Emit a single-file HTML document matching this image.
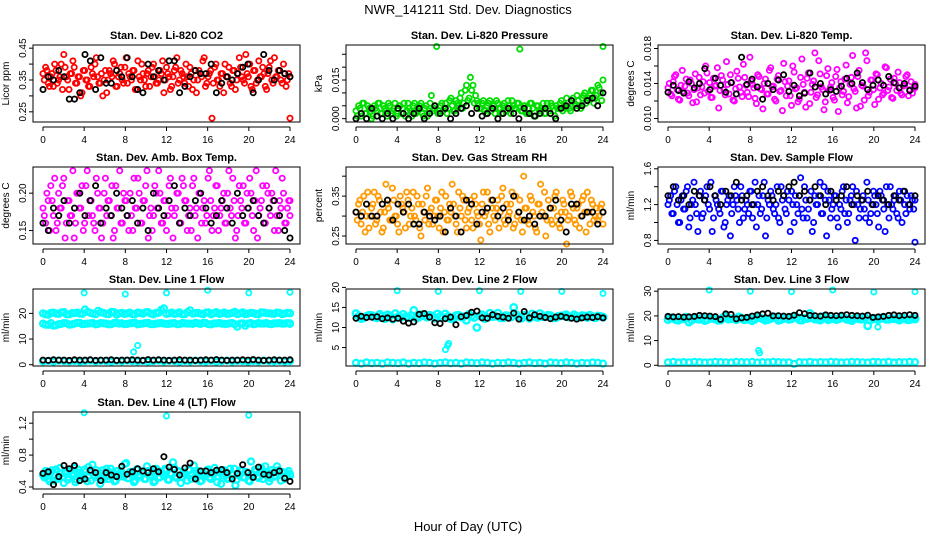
<!DOCTYPE html>
<html><head><meta charset="utf-8">
<style>
html,body{margin:0;padding:0;background:#fff;}
svg{display:block;font-family:"Liberation Sans",sans-serif;}
</style></head>
<body>
<svg id="chart" width="936" height="540" viewBox="0 0 936 540">
<rect width="936" height="540" fill="#fff"/>
<text x="468" y="14" text-anchor="middle" font-size="13">NWR_141211  Std. Dev. Diagnostics</text>
<text x="468" y="531" text-anchor="middle" font-size="13">Hour of Day (UTC)</text>
<g id="panels"></g>
</svg>
<script>
// ---- data ----
const xTicks = [0,4,8,12,16,20,24];
const co2Red = [.37,.39,.34,.36,.33,.38,.35,.40,.43,.36,.32,.37,.39,.34,.36,.31,.38,.35,.33,.37,.40,.36,.34,.30,.38,.35,.37,.41,.33,.36,.39,.34,.42,.37,.35,.38,.32,.36,.40,.35,.37,.33,.39,.36,.34,.38,.41,.35,.37,.32,.36,.39,.34,.38,.36,.40,.33,.37,.35,.31,.38,.36,.42,.34,.37,.23,.39,.35,.33,.37,.40,.36,.34,.38,.32,.37,.39,.35,.43,.36,.33,.38,.34,.41,.36,.37,.32,.39,.35,.42,.36,.38,.34,.37,.35,.23];
const co2Red2 = [.35,.38,.33,.37,.40,.34,.36,.32,.39,.35,.37,.41,.34,.36,.30,.38,.35,.33,.39,.36,.42,.34,.37,.35,.31,.38,.36,.40,.33,.37,.35,.39,.34,.36,.38,.32,.41,.35,.37,.33,.38,.36,.40,.34,.35,.37,.31,.39,.36,.33,.38,.42,.35,.37,.34,.36,.39,.32,.38,.35,.37,.41,.33,.36,.38,.34,.40,.35,.37,.31,.36,.39,.33,.38,.35,.42,.36,.34,.37,.40,.32,.38,.35,.36,.39,.33,.37,.41,.34,.36,.38,.35,.40,.33,.37,.36];
const co2Black = [.32,.36,.35,.38,.36,.29,.29,.31,.43,.41,.32,.42,.34,.34,.38,.36,.42,.36,.32,.31,.40,.36,.38,.35,.41,.41,.31,.33,.36,.38,.37,.37,.40,.31,.34,.36,.35,.37,.39,.40,.31,.35,.43,.38,.35,.38,.37,.36];
const presGreen = [.003,.005,.001,.006,.002,.004,.000,.005,.003,.006,.002,.004,.001,.005,.003,.006,.002,.005,.004,.001,.006,.003,.005,.002,.004,.006,.001,.005,.003,.009,.004,.028,.003,.006,.004,.002,.007,.005,.003,.006,.008,.004,.011,.007,.016,.013,.009,.006,.004,.007,.002,.006,.003,.005,.007,.004,.002,.006,.003,.005,.007,.004,.006,.027,.003,.005,.002,.006,.004,.001,.005,.003,.006,.002,.004,.006,.003,.005,.004,.007,.005,.008,.004,.007,.006,.009,.005,.008,.010,.007,.009,.011,.008,.013,.010,.028];
const presGreen2 = [.001,.004,.006,.002,.005,.003,.001,.004,.006,.002,.005,.003,.006,.002,.004,.001,.005,.002,.006,.003,.004,.001,.006,.003,.005,.002,.004,.001,.006,.003,.005,.002,.005,.003,.006,.004,.008,.003,.007,.005,.010,.006,.013,.008,.011,.006,.007,.004,.006,.003,.005,.007,.004,.002,.006,.004,.005,.003,.007,.002,.005,.004,.006,.003,.005,.002,.004,.006,.001,.005,.003,.004,.002,.006,.003,.005,.001,.004,.006,.003,.004,.006,.003,.008,.005,.007,.004,.009,.006,.008,.011,.006,.009,.012,.007,.015];
const presBlack = [.000,.002,.000,.004,.001,.000,.002,.000,.004,.002,.000,.002,.004,.000,.002,.005,.002,.004,.000,.002,.004,.005,.002,.004,.001,.002,.004,.000,.002,.004,.002,.000,.004,.002,.001,.002,.004,.002,.000,.004,.005,.007,.004,.005,.007,.008,.005,.010];
const tempMag = [.0135,.0128,.0142,.0150,.0122,.0138,.0131,.0145,.0126,.0140,.0133,.0119,.0147,.0136,.0129,.0152,.0141,.0124,.0137,.0158,.0132,.0144,.0127,.0139,.0150,.0121,.0134,.0146,.0130,.0162,.0138,.0125,.0143,.0135,.0117,.0148,.0133,.0140,.0128,.0155,.0136,.0122,.0145,.0131,.0109,.0142,.0137,.0126,.0160,.0134,.0119,.0147,.0139,.0113,.0152,.0130,.0143,.0124,.0166,.0136,.0110,.0149,.0132,.0141,.0121,.0156,.0135,.0127,.0145,.0118,.0139,.0172,.0131,.0148,.0114,.0137,.0175,.0126,.0144,.0133,.0151,.0122,.0140,.0129,.0158,.0136,.0124,.0146,.0132,.0141,.0127,.0138,.0150,.0133,.0129,.0135];
const tempMag2 = [.0140,.0126,.0148,.0133,.0121,.0155,.0137,.0129,.0144,.0118,.0151,.0135,.0127,.0142,.0160,.0131,.0124,.0146,.0138,.0112,.0149,.0133,.0165,.0128,.0141,.0120,.0154,.0136,.0125,.0147,.0130,.0170,.0139,.0123,.0150,.0134,.0111,.0145,.0128,.0158,.0137,.0120,.0149,.0132,.0163,.0126,.0143,.0115,.0153,.0135,.0122,.0168,.0130,.0146,.0117,.0139,.0175,.0127,.0151,.0133,.0119,.0157,.0136,.0124,.0148,.0108,.0142,.0131,.0161,.0125,.0147,.0134,.0112,.0155,.0138,.0121,.0166,.0130,.0144,.0116,.0150,.0135,.0127,.0159,.0132,.0145,.0123,.0140,.0153,.0129,.0137,.0148,.0126,.0142,.0134,.0139];
const tempBlack = [.0130,.0138,.0132,.0129,.0142,.0135,.0140,.0157,.0133,.0146,.0138,.0130,.0141,.0128,.0170,.0139,.0145,.0136,.0122,.0140,.0133,.0144,.0150,.0131,.0138,.0126,.0129,.0152,.0136,.0140,.0128,.0133,.0131,.0137,.0146,.0140,.0152,.0141,.0133,.0138,.0144,.0138,.0148,.0141,.0135,.0140,.0132,.0137];
const boxMag = [.18,.16,.19,.21,.17,.15,.20,.18,.22,.16,.19,.17,.14,.20,.18,.21,.16,.23,.19,.17,.15,.20,.18,.16,.22,.19,.17,.14,.21,.18,.16,.20,.19,.15,.17,.22,.18,.20,.16,.19,.23,.17,.15,.21,.18,.20,.16,.19,.17,.22,.14,.18,.20,.16,.21,.19,.17,.15,.22,.18,.20,.16,.19,.17,.23,.15,.18,.21,.17,.19,.16,.20,.18,.22,.14,.17,.19,.21,.16,.18,.20,.15,.23,.17,.19,.16,.21,.18,.20,.15,.17,.19,.22,.16,.18,.19];
const boxMag2 = [.17,.20,.15,.19,.22,.16,.18,.21,.14,.19,.17,.23,.16,.20,.18,.15,.21,.17,.19,.16,.22,.18,.14,.20,.17,.19,.21,.15,.18,.23,.16,.19,.17,.20,.15,.18,.22,.16,.19,.21,.14,.18,.17,.20,.23,.16,.19,.15,.21,.18,.17,.20,.16,.22,.19,.15,.18,.21,.17,.14,.20,.18,.16,.22,.19,.17,.21,.15,.18,.20,.16,.23,.17,.19,.15,.21,.18,.16,.20,.22,.17,.19,.14,.18,.21,.16,.20,.17,.19,.23,.15,.18,.20,.16,.19,.17];
const boxBlack = [.16,.15,.18,.17,.19,.16,.18,.20,.17,.19,.21,.16,.18,.17,.20,.18,.17,.19,.16,.18,.15,.20,.18,.17,.19,.21,.16,.18,.17,.19,.20,.18,.16,.17,.19,.18,.16,.20,.17,.18,.19,.17,.16,.18,.19,.17,.15,.14];
const rhOrange = [.31,.33,.28,.35,.30,.27,.32,.36,.29,.34,.26,.31,.33,.29,.37,.30,.28,.35,.32,.27,.34,.30,.36,.29,.33,.25,.31,.35,.28,.32,.30,.34,.27,.36,.31,.29,.33,.38,.30,.26,.32,.35,.29,.31,.34,.27,.33,.30,.24,.36,.31,.28,.34,.30,.32,.27,.35,.29,.33,.31,.36,.28,.30,.34,.26,.32,.29,.35,.31,.27,.33,.38,.30,.25,.34,.29,.32,.36,.28,.31,.33,.23,.30,.35,.29,.32,.27,.34,.31,.36,.28,.33,.30,.29,.32,.31];
const rhOrange2 = [.29,.34,.31,.26,.36,.30,.33,.28,.35,.31,.27,.38,.32,.29,.34,.30,.26,.33,.31,.36,.28,.32,.30,.35,.27,.33,.29,.37,.31,.28,.34,.30,.32,.26,.35,.29,.31,.33,.28,.36,.30,.34,.27,.32,.29,.35,.31,.28,.33,.30,.36,.26,.32,.29,.34,.31,.37,.28,.30,.33,.27,.35,.31,.29,.40,.32,.28,.34,.30,.26,.33,.31,.36,.29,.32,.28,.35,.30,.27,.34,.31,.29,.36,.32,.28,.33,.30,.35,.26,.31,.34,.29,.32,.30,.33,.28];
const rhBlack = [.31,.30,.33,.30,.30,.33,.34,.29,.33,.31,.33,.28,.28,.31,.30,.29,.30,.26,.32,.30,.26,.34,.33,.28,.31,.32,.34,.30,.32,.29,.35,.31,.29,.30,.28,.30,.30,.32,.34,.29,.26,.33,.33,.30,.31,.31,.28,.31];
const flowBlue = [1.2,1.3,1.1,1.4,1.0,1.25,1.15,1.35,0.95,1.2,1.45,1.1,1.3,1.05,1.25,1.4,1.15,0.9,1.3,1.2,1.1,1.35,1.0,1.25,0.85,1.2,1.3,1.15,1.4,1.05,1.25,1.1,1.35,1.2,0.95,1.3,1.15,1.45,1.05,1.2,1.3,1.1,1.4,1.0,1.25,1.15,1.35,0.9,1.2,1.3,1.1,1.5,1.05,1.25,1.15,1.35,1.0,1.2,1.3,1.1,1.4,0.85,1.25,1.15,1.3,1.05,1.2,1.35,1.1,1.0,1.25,1.4,0.8,1.2,1.15,1.3,1.05,1.25,1.1,1.35,1.2,0.95,1.3,1.15,1.4,1.05,1.2,1.25,1.1,1.35,1.0,1.2,1.3,1.15,1.25,0.78];
const flowBlue2 = [1.25,1.1,1.35,1.2,1.0,1.3,1.15,1.4,1.05,1.25,1.2,0.9,1.35,1.1,1.3,1.2,1.45,1.05,1.25,1.15,1.35,0.95,1.2,1.3,1.1,1.4,1.25,1.0,1.3,1.15,1.2,1.35,1.05,1.45,1.2,1.1,1.3,0.85,1.25,1.35,1.15,1.2,1.05,1.4,1.3,1.1,1.25,1.35,1.0,1.2,1.3,1.15,1.4,1.05,1.25,0.9,1.3,1.2,1.45,1.1,1.25,1.35,1.05,1.2,1.3,0.95,1.15,1.4,1.25,1.1,1.3,1.2,1.35,1.05,1.25,1.15,1.45,1.0,1.2,1.3,1.1,1.35,1.25,0.9,1.2,1.4,1.15,1.3,1.05,1.25,1.35,1.1,1.2,1.3,1.15,1.25];
const flowBlack = [1.3,1.4,1.25,1.3,1.2,1.35,1.3,1.25,1.4,1.3,1.2,1.35,1.3,1.45,1.25,1.3,1.2,1.35,1.4,1.3,1.25,1.35,1.3,1.4,1.45,1.3,1.35,1.25,1.4,1.3,1.2,1.35,1.25,1.3,1.4,1.2,1.3,1.25,1.35,1.2,1.3,1.25,1.2,1.3,1.25,1.35,1.2,1.3];
const line1Upper = [20,19.5,20.3,19.8,20.5,19.6,20.1,19.9,21.5,20.2,19.7,20.4,19.8,20.6,19.5,20.2,20,19.7,20.3,19.9,20.5,19.6,20.2,22,20,19.8,20.4,19.7,21.2,20.1,19.9,20.3,19.6,20.5,20,19.8,20.2,19.7,20.4,19.9,20.1,19.6,20.3,20,19.8,20.2,19.9,20.1];
const line1Upper2 = [19.7,20.2,19.9,20.4,19.6,20.1,20.3,19.8,20.6,19.9,21,20.2,19.7,20.5,20,19.8,20.3,19.6,20.1,20.4,19.9,20.2,21.4,19.8,20.3,20,19.6,20.5,19.9,20.2,19.7,20.4,20.1,19.8,20.3,19.9,20.6,20,19.7,20.2,19.8,20.4,20.1,19.9,20.3,19.7,20.2,20];
const line1Mid = [16,15.5,15.2,15.8,16.2,15.6,16,16.3,15.9,16.1,15.7,16.2,16,15.8,16.3,16.1,15.9,16.2,15.7,16,16.3,15.8,16.1,16,15.9,16.2,15.8,16.1,16,16.3,15.9,16.2,15.7,16.1,16,15.9,16.2,14.8,16.1,16,15.8,16.2,16,15.9,16.1,16.2,16,16.1];
const line1Mid2 = [15.6,16.2,15.4,15.9,16.1,15.7,16.3,15.8,16,16.2,15.9,16.1,15.7,16.2,16,15.8,16.1,16.3,15.9,16.2,15.8,16,16.2,15.9,16.1,15.8,16.2,16,15.9,16.1,16.3,15.8,16,16.2,15.9,16.1,15.8,16,15.2,16.2,15.9,16,16.2,15.8,16.1,16,16.2,15.9];
const line1Low = [1.3,1.5,1.2,1.6,1.4,1.3,1.5,1.2,1.4,1.6,1.3,1.5,1.4,1.2,1.5,1.3,1.6,1.4,1.3,1.5,1.2,1.4,1.6,1.3,1.5,1.4,1.2,1.5,1.3,1.6,1.4,1.3,1.5,1.2,1.4,1.6,1.3,1.5,1.4,1.2,1.5,1.3,1.6,1.4,1.3,1.5,1.2,1.4];
const line1Black = [1.8,1.7,1.9,1.8,1.8,1.7,1.9,1.8,1.8,1.9,1.7,1.8,1.8,1.9,1.7,1.8,1.8,1.9,1.8,1.7,2.0,1.8,1.9,1.8,1.7,1.8,1.9,1.8,1.8,1.7,1.8,1.9,1.8,2.0,1.8,1.7,1.8,1.8,1.9,1.8,2.0,1.8,1.7,1.8,1.9,1.8,1.8,1.9];
const line1OutHours = [4,8,12,16,20,24,8.8,9.2];
const line1OutVals = [28,27.5,28,29,28,28.2,5,7.5];
const line2Band = [13.5,12.2,12.8,13,12.4,12.9,13.2,12.1,12.7,13.3,12.5,14.3,12.6,12.9,13.1,12.3,12.8,13.4,12.2,13,12.6,11.8,12.9,10,13.2,12.5,12.7,13.6,12.4,12.9,15,12.6,13.1,12.3,12.8,13.5,12.7,13,12.4,12.9,13.2,12.6,12.8,13,12.5,12.7,12.9,12.6];
const line2Band2 = [12.8,12.4,13.1,12.6,13.3,12.2,12.9,13.5,12.5,12.7,13,12.3,13.2,12.6,12.9,13.4,12.4,12.8,12.1,13.1,12.7,13.3,12.5,12.9,12.2,13.6,12.8,12.4,13,12.6,13.2,12.3,12.9,13.4,12.5,12.7,13.1,12.4,12.8,13,12.6,13.2,12.5,12.9,13.1,12.4,12.8,12.6];
const line2Low = [1.2,1.0,1.3,1.1,1.2,1.0,1.3,1.2,1.1,1.3,1.0,1.2,1.1,1.3,1.2,1.0,1.2,1.3,1.1,1.2,1.0,1.3,1.2,1.1,1.3,1.2,1.0,1.2,1.1,1.3,1.2,1.0,1.2,1.3,1.1,1.2,1.0,1.3,1.2,1.1,1.3,1.2,1.0,1.2,1.1,1.3,1.2,1.0];
const line2Black = [12.3,12.8,12.5,12.6,12.7,12.2,12.4,12.1,12.3,11.6,11.1,11.4,13.3,13.5,12.6,11.2,11,12.2,12.6,10.7,12.7,13,13.8,14.1,12.4,12.3,13.2,12.8,12.6,12.3,13.6,12.1,14,12.4,13.2,12.8,12.5,12.2,12.6,12.8,12.5,12.3,12.1,12.4,12.6,12.5,12.7,12.4];
const line2OutHours = [4,8,12,16,20,24,8.7,8.9,9.0];
const line2OutVals = [19.2,19,19.2,19,19,18.5,4.5,5.5,6];
const line3Band = [18.5,19,18.2,18.8,17.5,19.2,18.6,18.1,19.4,18.7,18.3,19.8,18.9,18.4,19.1,18.6,18,19.3,18.8,18.5,19.5,18.2,18.9,18.6,19.9,18.4,19,21,18.7,18.3,19.2,18.8,18.5,19.4,18.6,18.1,19,18.7,16,18.9,18.4,19.1,18.6,18.8,18.3,19,18.5,18.7];
const line3Band2 = [19.2,18.4,18.9,19.5,18.3,18.8,19.3,18.5,19,18.2,19.4,18.7,18.9,19.6,18.4,19.1,18.6,19.3,18.2,18.9,19.5,18.5,19.1,18.8,19.4,18.3,18.9,19.2,18.6,19.7,18.4,19,18.8,19.3,18.5,19.1,18.7,19.4,18.3,18.9,19.2,18.6,19,18.8,19.3,18.5,19.1,18.9];
const line3Low = [1.2,1.4,1.1,1.3,1.2,1.4,1.3,1.1,1.2,1.4,1.3,1.2,1.1,1.4,1.3,1.2,1.4,1.1,1.3,1.2,1.4,1.3,1.1,1.2,0.6,1.3,1.2,1.4,1.1,1.3,1.2,1.4,1.3,1.1,1.2,1.4,1.3,1.2,1.1,1.4,1.3,1.2,1.4,1.1,1.3,1.2,1.4,1.3];
const line3Black = [19.8,19.6,19.7,19.5,19.6,19.8,20.2,20.1,19.9,19.7,18.6,20.8,20.6,18.8,19.2,19.4,19.9,20.4,20.8,21.1,20,20.1,19.9,19.8,20.3,21.3,20.9,20.2,20.1,19.9,20.4,20.2,20.1,20.3,20.5,20.2,20.1,19.9,20.3,19.4,19.6,19.8,20.2,20.4,20.1,20.3,20.5,20.2];
const line3OutHours = [4,8,12,16,20,24,8.8,8.9,20.4];
const line3OutVals = [30.5,30,29.8,30.5,29.7,29.8,6,5,15.5];
const line4Cyan = [.55,.60,.50,.58,.48,.62,.53,.57,.45,.60,.52,.56,.64,.49,.58,.54,.62,.47,.59,.68,.52,.57,.44,.61,.55,.50,.63,.58,.48,.56,.60,.53,.70,.51,.57,.46,.62,.55,.59,.50,.66,.54,.58,.47,.61,.52,.56,.63,.49,.57,.71,.53,.60,.45,.58,.55,.62,.50,.67,.54,.59,.48,.56,.61,.52,.57,.64,.46,.58,.54,.60,.50,.63,.55,.42,.57,.61,.52,.59,.48,.72,.55,.60,.51,.64,.56,.58,.47,.61,.53,.66,.55,.59,.50,.57,.54];
const line4Cyan2 = [.52,.58,.47,.61,.55,.50,.64,.53,.57,.49,.60,.54,.46,.62,.56,.51,.59,.65,.48,.55,.61,.52,.57,.50,.63,.54,.58,.47,.60,.53,.56,.69,.51,.59,.55,.48,.62,.53,.57,.50,.60,.55,.46,.63,.52,.58,.54,.61,.49,.56,.64,.51,.59,.53,.57,.48,.61,.55,.52,.60,.47,.58,.54,.62,.50,.56,.59,.53,.44,.61,.55,.51,.57,.63,.49,.54,.60,.52,.58,.47,.56,.62,.53,.59,.50,.66,.55,.51,.58,.54,.61,.48,.57,.53,.60,.56];
const line4Black = [.57,.59,.43,.53,.67,.63,.67,.48,.50,.61,.58,.48,.58,.55,.53,.66,.56,.59,.63,.60,.58,.63,.59,.78,.65,.62,.55,.64,.70,.50,.60,.60,.58,.61,.62,.58,.50,.57,.68,.58,.52,.65,.56,.55,.58,.60,.51,.47];
const line4OutHours = [4,12,20];
const line4OutVals = [1.33,1.29,1.30];

// ---- layout ----
const colLeft = [33,346,658], rowTop = [45,167,289,412], PW = 267, PH = 77;
const NS = 'http://www.w3.org/2000/svg';
const root = document.getElementById('panels');
function mk(tag, attrs, parent){ const e=document.createElementNS(NS,tag); for(const k in attrs) e.setAttribute(k,attrs[k]); (parent||root).appendChild(e); return e; }

function evenHours(n, shift){ const st = 24/(n-1); return Array.from({length:n},(_,i)=>Math.min(24, i*st + (shift||0)*st)); }

function panel(cfg){
  const L = colLeft[cfg.col], T = rowTop[cfg.row];
  const g = mk('g',{});
  
  
  const xs = h => L + 10 + h*(PW-20)/24;
  const ys = v => T + PH - (v - cfg.ylim[0])/(cfg.ylim[1]-cfg.ylim[0])*PH;
  const t = mk('text',{x:L+PW/2,y:T-6,'text-anchor':'middle','font-size':'11','font-weight':'bold'},g);
  t.textContent = cfg.title;
  
  
  const yl = mk('text',{x:0,y:0,'text-anchor':'middle','font-size':'10',transform:`translate(${L-24},${T+PH/2}) rotate(-90)`},g);
  yl.textContent = cfg.ylab;
  
  
  cfg.series.forEach(s=>{
    const hrs = s.hours || evenHours(s.vals.length, s.shift);
    s.vals.forEach((v,i)=>{
      const c = mk('circle',{cx:xs(hrs[i]).toFixed(1),cy:ys(v).toFixed(1),r:s.r||2.6,fill:'none',stroke:s.color,'stroke-width':s.sw||1.8},g);
      
      
    });
  });
  const f = mk('rect',{x:L,y:T,width:PW,height:PH,fill:'none',stroke:'#000','stroke-width':1},g);
  
  
  const ay = T+PH+5;
  mk('line',{x1:xs(0),x2:xs(24),y1:ay,y2:ay,stroke:'#000'},g);
  xTicks.forEach(h=>{
    mk('line',{x1:xs(h),x2:xs(h),y1:ay,y2:ay+4,stroke:'#000'},g);
    const tl = mk('text',{x:xs(h),y:ay+16,'text-anchor':'middle','font-size':'10'},g);
    tl.textContent = h;
    
    
  });
  cfg.yticks.forEach((v,i)=>{
    const y = ys(v);
    mk('line',{x1:L-4,x2:L,y1:y,y2:y,stroke:'#000'},g);
    if(cfg.ylabels[i]){
      const tl = mk('text',{x:0,y:0,'text-anchor':'middle','font-size':'10',transform:`translate(${L-7},${y}) rotate(-90)`},g);
      tl.textContent = cfg.ylabels[i];
      
      
    }
  });
}

const panels = [
 {name:'panel-co2',col:0,row:0,title:'Stan. Dev. Li-820 CO2',ylab:'Licor ppm',ylim:[0.218,0.46],yticks:[.25,.30,.35,.40,.45],ylabels:['0.25','','0.35','','0.45'],
  series:[{id:'co2-red',vals:co2Red,color:'#ff0000'},{id:'co2-red-b',vals:co2Red2,color:'#ff0000',shift:0.5},{id:'co2-black',vals:co2Black,color:'#000'}]},
 {name:'panel-pressure',col:1,row:0,title:'Stan. Dev. Li-820 Pressure',ylab:'kPa',ylim:[-0.0013,0.0286],yticks:[0,.005,.010,.015,.020,.025],ylabels:['0.000','','','0.015','',''],
  series:[{id:'pressure-green',vals:presGreen,color:'#00dd00'},{id:'pressure-green-b',vals:presGreen2,color:'#00dd00',shift:0.5},{id:'pressure-black',vals:presBlack,color:'#000'}]},
 {name:'panel-temp',col:2,row:0,title:'Stan. Dev. Li-820 Temp.',ylab:'degrees C',ylim:[0.0096,0.0184],yticks:[.010,.012,.014,.016,.018],ylabels:['0.010','','0.014','','0.018'],
  series:[{id:'temp-magenta',vals:tempMag,color:'#ff00ff'},{id:'temp-magenta-b',vals:tempMag2,color:'#ff00ff',shift:0.5},{id:'temp-black',vals:tempBlack,color:'#000'}]},
 {name:'panel-box-temp',col:0,row:1,title:'Stan. Dev. Amb. Box Temp.',ylab:'degrees C',ylim:[0.132,0.235],yticks:[.15,.20],ylabels:['0.15','0.20'],
  series:[{id:'box-magenta',vals:boxMag,color:'#ff00ff'},{id:'box-magenta-b',vals:boxMag2,color:'#ff00ff',shift:0.5},{id:'box-black',vals:boxBlack,color:'#000'}]},
 {name:'panel-rh',col:1,row:1,title:'Stan. Dev. Gas Stream RH',ylab:'percent',ylim:[0.23,0.423],yticks:[.25,.30,.35,.40],ylabels:['0.25','','0.35',''],
  series:[{id:'rh-orange',vals:rhOrange,color:'#ff9900'},{id:'rh-orange-b',vals:rhOrange2,color:'#ff9900',shift:0.5},{id:'rh-black',vals:rhBlack,color:'#000'}]},
 {name:'panel-sample-flow',col:2,row:1,title:'Stan. Dev. Sample Flow',ylab:'ml/min',ylim:[0.76,1.62],yticks:[.8,1.0,1.2,1.4,1.6],ylabels:['0.8','','1.2','','1.6'],
  series:[{id:'flow-blue',vals:flowBlue,color:'#0000ff'},{id:'flow-blue-b',vals:flowBlue2,color:'#0000ff',shift:0.5},{id:'flow-black',vals:flowBlack,color:'#000'}]},
 {name:'panel-line1',col:0,row:2,title:'Stan. Dev. Line 1 Flow',ylab:'ml/min',ylim:[-0.5,29.5],yticks:[0,10,20],ylabels:['0','10','20'],
  series:[{id:'line1-upper',vals:line1Upper,color:'#00ffff',r:3,sw:2.2},{id:'line1-upper-b',vals:line1Upper2,color:'#00ffff',r:3,sw:2.2,shift:0.5},{id:'line1-mid',vals:line1Mid,color:'#00ffff',r:3,sw:2.2},{id:'line1-mid-b',vals:line1Mid2,color:'#00ffff',r:3,sw:2.2,shift:0.5},{id:'line1-low',vals:line1Low,color:'#00ffff',r:3,sw:2.2},{id:'line1-outlier',vals:line1OutVals,hours:line1OutHours,color:'#00ffff'},{id:'line1-black',vals:line1Black,color:'#000'}]},
 {name:'panel-line2',col:1,row:2,title:'Stan. Dev. Line 2 Flow',ylab:'ml/min',ylim:[0.4,19.6],yticks:[5,10,15,20],ylabels:['5','10','15','20'],
  series:[{id:'line2-band',vals:line2Band,color:'#00ffff',r:3.2,sw:2.4},{id:'line2-band-b',vals:line2Band2,color:'#00ffff',r:3.2,sw:2.4,shift:0.5},{id:'line2-low',vals:line2Low,color:'#00ffff',r:3,sw:2.2},{id:'line2-outlier',vals:line2OutVals,hours:line2OutHours,color:'#00ffff'},{id:'line2-black',vals:line2Black,color:'#000'}]},
 {name:'panel-line3',col:2,row:2,title:'Stan. Dev. Line 3 Flow',ylab:'ml/min',ylim:[-0.3,30.9],yticks:[0,10,20,30],ylabels:['0','10','20','30'],
  series:[{id:'line3-band',vals:line3Band,color:'#00ffff',r:3.2,sw:2.4},{id:'line3-band-b',vals:line3Band2,color:'#00ffff',r:3.2,sw:2.4,shift:0.5},{id:'line3-low',vals:line3Low,color:'#00ffff',r:3,sw:2.2},{id:'line3-outlier',vals:line3OutVals,hours:line3OutHours,color:'#00ffff'},{id:'line3-black',vals:line3Black,color:'#000'}]},
 {name:'panel-line4',col:0,row:3,title:'Stan. Dev. Line 4 (LT) Flow',ylab:'ml/min',ylim:[0.375,1.34],yticks:[.4,.6,.8,1.0,1.2],ylabels:['0.4','','0.8','','1.2'],
  series:[{id:'line4-cyan',vals:line4Cyan,color:'#00ffff',r:3,sw:2.2},{id:'line4-cyan-b',vals:line4Cyan2,color:'#00ffff',r:3,sw:2.2,shift:0.5},{id:'line4-outlier',vals:line4OutVals,hours:line4OutHours,color:'#00ffff'},{id:'line4-black',vals:line4Black,color:'#000'}]}
];
panels.forEach(panel);
</script>
</body></html>
